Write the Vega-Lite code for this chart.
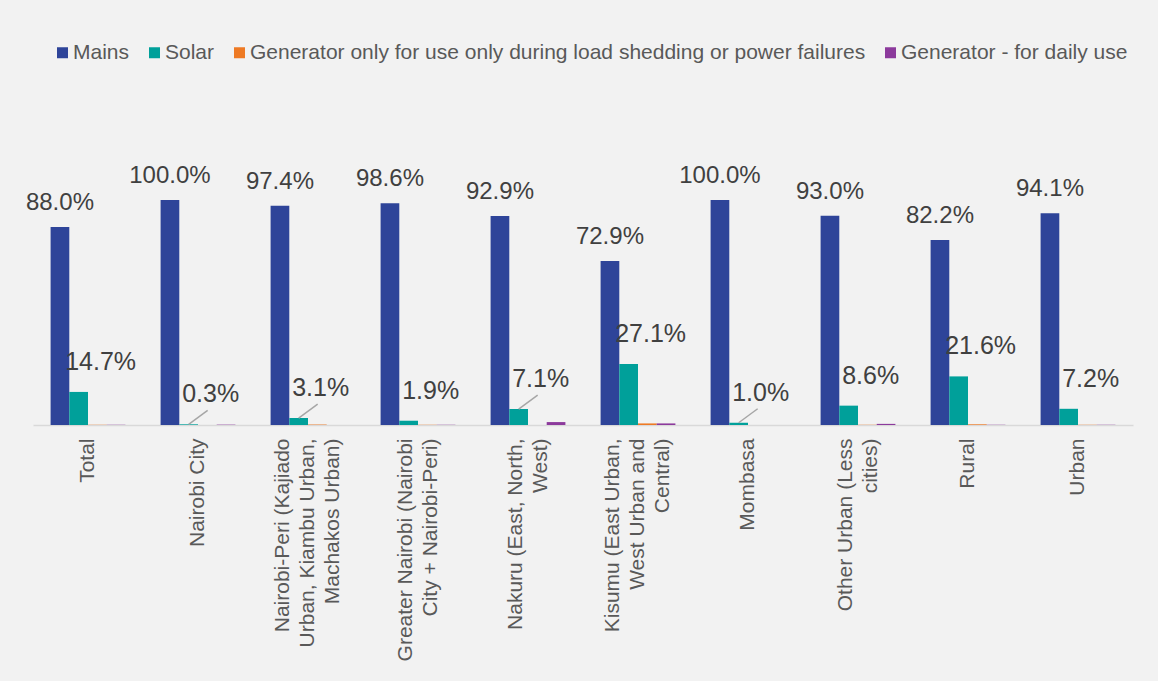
{
  "$schema": "https://vega.github.io/schema/vega-lite/v6.json",
  "autosize": "none",
  "width": 1100,
  "height": 270,
  "padding": {"left": 33, "top": 155, "right": 25, "bottom": 256},
  "background": "#F2F2F2",
  "config": {"view": {"stroke": null}, "font": "Liberation Sans"},
  "data": {"values": [
    {"Region": "Total", "Series": "Mains", "Share": 0.880},
    {"Region": "Total", "Series": "Solar", "Share": 0.147},
    {"Region": "Total", "Series": "Generator only for use only during load shedding or power failures", "Share": 0.001},
    {"Region": "Total", "Series": "Generator - for daily use", "Share": 0.001},
    {"Region": "Nairobi City", "Series": "Mains", "Share": 1.000},
    {"Region": "Nairobi City", "Series": "Solar", "Share": 0.003},
    {"Region": "Nairobi City", "Series": "Generator only for use only during load shedding or power failures", "Share": 0.0},
    {"Region": "Nairobi City", "Series": "Generator - for daily use", "Share": 0.0015},
    {"Region": "Nairobi-Peri (Kajiado Urban, Kiambu Urban, Machakos Urban)", "Series": "Mains", "Share": 0.974},
    {"Region": "Nairobi-Peri (Kajiado Urban, Kiambu Urban, Machakos Urban)", "Series": "Solar", "Share": 0.031},
    {"Region": "Nairobi-Peri (Kajiado Urban, Kiambu Urban, Machakos Urban)", "Series": "Generator only for use only during load shedding or power failures", "Share": 0.002},
    {"Region": "Nairobi-Peri (Kajiado Urban, Kiambu Urban, Machakos Urban)", "Series": "Generator - for daily use", "Share": 0.0},
    {"Region": "Greater Nairobi (Nairobi City + Nairobi-Peri)", "Series": "Mains", "Share": 0.986},
    {"Region": "Greater Nairobi (Nairobi City + Nairobi-Peri)", "Series": "Solar", "Share": 0.019},
    {"Region": "Greater Nairobi (Nairobi City + Nairobi-Peri)", "Series": "Generator only for use only during load shedding or power failures", "Share": 0.001},
    {"Region": "Greater Nairobi (Nairobi City + Nairobi-Peri)", "Series": "Generator - for daily use", "Share": 0.001},
    {"Region": "Nakuru (East, North, West)", "Series": "Mains", "Share": 0.929},
    {"Region": "Nakuru (East, North, West)", "Series": "Solar", "Share": 0.071},
    {"Region": "Nakuru (East, North, West)", "Series": "Generator only for use only during load shedding or power failures", "Share": 0.0},
    {"Region": "Nakuru (East, North, West)", "Series": "Generator - for daily use", "Share": 0.013},
    {"Region": "Kisumu (East Urban, West Urban and Central)", "Series": "Mains", "Share": 0.729},
    {"Region": "Kisumu (East Urban, West Urban and Central)", "Series": "Solar", "Share": 0.271},
    {"Region": "Kisumu (East Urban, West Urban and Central)", "Series": "Generator only for use only during load shedding or power failures", "Share": 0.007},
    {"Region": "Kisumu (East Urban, West Urban and Central)", "Series": "Generator - for daily use", "Share": 0.007},
    {"Region": "Mombasa", "Series": "Mains", "Share": 1.000},
    {"Region": "Mombasa", "Series": "Solar", "Share": 0.010},
    {"Region": "Mombasa", "Series": "Generator only for use only during load shedding or power failures", "Share": 0.0},
    {"Region": "Mombasa", "Series": "Generator - for daily use", "Share": 0.0},
    {"Region": "Other Urban (Less cities)", "Series": "Mains", "Share": 0.930},
    {"Region": "Other Urban (Less cities)", "Series": "Solar", "Share": 0.086},
    {"Region": "Other Urban (Less cities)", "Series": "Generator only for use only during load shedding or power failures", "Share": 0.001},
    {"Region": "Other Urban (Less cities)", "Series": "Generator - for daily use", "Share": 0.005},
    {"Region": "Rural", "Series": "Mains", "Share": 0.822},
    {"Region": "Rural", "Series": "Solar", "Share": 0.216},
    {"Region": "Rural", "Series": "Generator only for use only during load shedding or power failures", "Share": 0.003},
    {"Region": "Rural", "Series": "Generator - for daily use", "Share": 0.001},
    {"Region": "Urban", "Series": "Mains", "Share": 0.941},
    {"Region": "Urban", "Series": "Solar", "Share": 0.072},
    {"Region": "Urban", "Series": "Generator only for use only during load shedding or power failures", "Share": 0.001},
    {"Region": "Urban", "Series": "Generator - for daily use", "Share": 0.001}
  ]},
  "encoding": {
    "x": {
      "field": "Region", "type": "nominal", "sort": null,
      "scale": {
        "domain": ["Total", "Nairobi City", "Nairobi-Peri (Kajiado Urban, Kiambu Urban, Machakos Urban)", "Greater Nairobi (Nairobi City + Nairobi-Peri)", "Nakuru (East, North, West)", "Kisumu (East Urban, West Urban and Central)", "Mombasa", "Other Urban (Less cities)", "Rural", "Urban"],
        "paddingInner": 0.32, "paddingOuter": 0.16
      },
      "axis": {
        "title": null, "labelAngle": -90, "labelAlign": "right", "labelBaseline": "middle",
        "labelFontSize": 21, "labelColor": "#595959", "labelPadding": 13, "labelLineHeight": 25,
        "labelLimit": 400, "labelOverlap": false, "ticks": false,
        "domainColor": "#D9D9D9", "domainWidth": 1.5,
        "labelOffset": {
          "condition": [
            {"test": "datum.value == 'Nairobi-Peri (Kajiado Urban, Kiambu Urban, Machakos Urban)' || datum.value == 'Kisumu (East Urban, West Urban and Central)'", "value": -25},
            {"test": "datum.value == 'Greater Nairobi (Nairobi City + Nairobi-Peri)' || datum.value == 'Nakuru (East, North, West)' || datum.value == 'Other Urban (Less cities)'", "value": -12.5}
          ],
          "value": 0
        },
        "labelExpr": "datum.label == 'Nairobi-Peri (Kajiado Urban, Kiambu Urban, Machakos Urban)' ? ['Nairobi-Peri (Kajiado', 'Urban, Kiambu Urban,', 'Machakos Urban)'] : datum.label == 'Greater Nairobi (Nairobi City + Nairobi-Peri)' ? ['Greater Nairobi (Nairobi', 'City + Nairobi-Peri)'] : datum.label == 'Nakuru (East, North, West)' ? ['Nakuru (East, North,', 'West)'] : datum.label == 'Kisumu (East Urban, West Urban and Central)' ? ['Kisumu (East Urban,', 'West Urban and', 'Central)'] : datum.label == 'Other Urban (Less cities)' ? ['Other Urban (Less', 'cities)'] : datum.label"
      }
    },
    "xOffset": {
      "field": "Series", "type": "nominal",
      "scale": {"domain": ["Mains", "Solar", "Generator only for use only during load shedding or power failures", "Generator - for daily use"], "paddingInner": 0, "paddingOuter": 0}
    },
    "y": {"field": "Share", "type": "quantitative", "scale": {"domain": [0, 1.2], "nice": false}, "axis": null}
  },
  "layer": [
    {
      "mark": {"type": "bar"},
      "encoding": {
        "color": {
          "field": "Series", "type": "nominal",
          "scale": {
            "domain": ["Mains", "Solar", "Generator only for use only during load shedding or power failures", "Generator - for daily use"],
            "range": ["#2E4499", "#00A09A", "#EE7A24", "#8C3A9C"]
          },
          "legend": {
            "orient": "none", "legendX": 19, "legendY": -113, "direction": "horizontal", "title": null,
            "symbolType": "square", "symbolSize": 121, "symbolStrokeWidth": 0,
            "labelFontSize": 21, "labelColor": "#595959", "columnPadding": 14, "labelOffset": 0, "labelLimit": 1000
          }
        }
      }
    },
    {
      "transform": [{"filter": "datum.Series == 'Mains'"}],
      "mark": {"type": "text", "baseline": "alphabetic", "dy": -17, "fontSize": 24, "color": "#404040"},
      "encoding": {"text": {"field": "Share", "type": "quantitative", "format": ".1%"}}
    },
    {
      "transform": [{"filter": "datum.Series == 'Solar'"}],
      "mark": {"type": "text", "baseline": "alphabetic", "dx": 22, "dy": -22, "fontSize": 25, "color": "#404040"},
      "encoding": {"text": {"field": "Share", "type": "quantitative", "format": ".1%"}}
    },
    {
      "transform": [
        {"filter": "datum.Series == 'Solar'"},
        {"filter": {"field": "Region", "oneOf": ["Nairobi City", "Nairobi-Peri (Kajiado Urban, Kiambu Urban, Machakos Urban)", "Nakuru (East, North, West)", "Mombasa"]}}
      ],
      "mark": {"type": "point", "shape": "M0,0L0.95,-0.7", "size": 1600, "filled": false, "stroke": "#A6A6A6", "strokeWidth": 1.5, "opacity": 1}
    }
  ]
}
